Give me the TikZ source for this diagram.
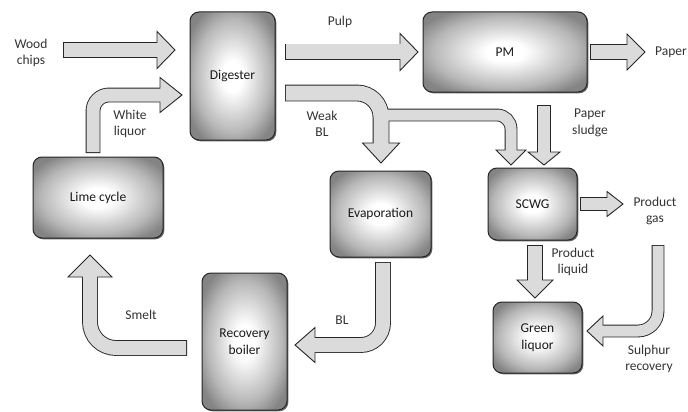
\documentclass[tikz,border=0pt]{standalone}
\usepackage{fontspec}
\setmainfont{Carlito}
\usetikzlibrary{calc,shadows}
\definecolor{afill}{gray}{0.86}
\pgfdeclareradialshading{boxshade}{\pgfpoint{0bp}{0bp}}{color(0bp)=(white); color(6bp)=(white); color(22bp)=(black!28); color(30bp)=(black!48); color(50bp)=(black!52)}
\newcommand\labfont{\fontsize{13.5}{16.5}\selectfont}
\tikzset{
 box/.style={draw=black!85, line width=1pt, rounded corners=9pt, shade, shading=boxshade,
   drop shadow={shadow xshift=1.3pt, shadow yshift=-1.3pt, opacity=0.6, fill=black},
   align=center, font=\labfont, text=black!90, inner sep=0pt},
 lab/.style={align=center, font=\labfont, text=black!80, inner sep=0pt},
 shaftout/.style={line width=#1+1.8pt, draw=black!85},
 shaftin/.style={line width=#1, draw=afill, shorten <=0.9pt, shorten >=-1.5pt},
 headst/.style={fill=afill, draw=black!85, line width=0.9pt, line join=miter},
}
\newcommand\ahead[3]{\filldraw[headst] ($(#2)!#3!90:(#1)$) -- (#1) -- ($(#2)!#3!-90:(#1)$) -- cycle;}
\newcommand\barrow[5]{\draw[shaftout=#2] #1; \ahead{#4}{#3}{#5} \draw[shaftin=#2] #1;}
\begin{document}
\begin{tikzpicture}[x=1pt,y=-1pt]
\useasboundingbox (0,0) rectangle (688,412);
% boxes
\node[box, minimum width=85pt, minimum height=128pt] (dig) at (232.5,76) {Digester};
\node[box, minimum width=164pt, minimum height=80pt] (pm) at (505,52) {PM};
\node[box, minimum width=130pt, minimum height=81pt] (lime) at (98,197.5) {Lime cycle};
\node[box, minimum width=101pt, minimum height=86pt] (evap) at (380.5,214) {Evaporation};
\node[box, minimum width=89pt, minimum height=72pt] (scwg) at (532.5,204) {SCWG};
\node[box, minimum width=85pt, minimum height=137pt] (rb) at (244.5,341.5) {Recovery\\boiler};
\node[box, minimum width=89pt, minimum height=71pt] (gl) at (537.5,337.5) {Green\\liquor};
% coordinates
\coordinate (wcA) at (63,50);   \coordinate (wcB) at (157,50);  \coordinate (wcT) at (175,50);
\coordinate (wlA) at (93,153);  \coordinate (wlC) at (93,95);   \coordinate (wlB) at (160,95); \coordinate (wlT) at (182,95);
\coordinate (puA) at (285,52);  \coordinate (puB) at (400,52);  \coordinate (puT) at (418,52);
\coordinate (paA) at (590,52);  \coordinate (paB) at (627,52);  \coordinate (paT) at (645,52);
\coordinate (wbA) at (285,93);  \coordinate (wbC) at (381,93);  \coordinate (wbB) at (381,143); \coordinate (wbT) at (381,163);
\coordinate (brA) at (381,115); \coordinate (brC) at (511,115); \coordinate (brB) at (511,150); \coordinate (brT) at (511,165);
\coordinate (psA) at (544,105); \coordinate (psB) at (544,152); \coordinate (psT) at (544,165);
\coordinate (pgA) at (580,204); \coordinate (pgB) at (607,204); \coordinate (pgT) at (623,204);
\coordinate (plA) at (535,245); \coordinate (plB) at (535,280); \coordinate (plT) at (535,298);
\coordinate (srA) at (658,245); \coordinate (srC) at (658,331); \coordinate (srB) at (603,331); \coordinate (srT) at (587,331);
\coordinate (blA) at (383,262); \coordinate (blC) at (383,345); \coordinate (blB) at (315,345); \coordinate (blT) at (295,345);
\coordinate (smA) at (187,348); \coordinate (smC) at (90,348);  \coordinate (smB) at (90,277);  \coordinate (smT) at (90,255);
% arrows
\barrow{(wcA) -- (wcB)}{14pt}{wcB}{wcT}{18.5pt}
\barrow{[rounded corners=16pt] (wlA) -- (wlC) -- (wlB)}{13pt}{wlB}{wlT}{17.5pt}
\barrow{(puA) -- (puB)}{15pt}{puB}{puT}{18.5pt}
\barrow{(paA) -- (paB)}{14pt}{paB}{paT}{18pt}
% weak BL with branch
\draw[shaftout=15pt, rounded corners=24pt] (wbA) -- (wbC) -- (wbB);
\draw[shaftout=11pt, rounded corners=14pt] (brA) -- (brC) -- (brB);
\ahead{wbT}{wbB}{18.5pt}
\ahead{brT}{brB}{15pt}
\draw[shaftin=15pt, rounded corners=24pt] (wbA) -- (wbC) -- (wbB);
\draw[shaftin=11pt, rounded corners=14pt, shorten <=0pt] (brA) -- (brC) -- (brB);
\barrow{(psA) -- (psB)}{12pt}{psB}{psT}{16pt}
\barrow{(pgA) -- (pgB)}{12pt}{pgB}{pgT}{12.5pt}
\barrow{(plA) -- (plB)}{14pt}{plB}{plT}{18pt}
\barrow{[rounded corners=20pt] (srA) -- (srC) -- (srB)}{11pt}{srB}{srT}{15pt}
\barrow{[rounded corners=22pt] (blA) -- (blC) -- (blB)}{14pt}{blB}{blT}{17.5pt}
\barrow{[rounded corners=26pt] (smA) -- (smC) -- (smB)}{14pt}{smB}{smT}{22pt}
% labels
\node[lab] (lwc) at (31,53) {Wood\\chips};
\node[lab] (lwl) at (130,124) {White\\liquor};
\node[lab] (lpu) at (340,22) {Pulp};
\node[lab] (lwb) at (322,124) {Weak\\BL};
\node[lab] (lps) at (590,123) {Paper\\sludge};
\node[lab] (lpa) at (671,52) {Paper};
\node[lab] (lpg) at (655,211) {Product\\gas};
\node[lab] (lpl) at (573,262) {Product\\liquid};
\node[lab] (lsr) at (649,359) {Sulphur\\recovery};
\node[lab] (lsm) at (141,315) {Smelt};
\node[lab] (lbl) at (342,320) {BL};
\end{tikzpicture}
\end{document}
